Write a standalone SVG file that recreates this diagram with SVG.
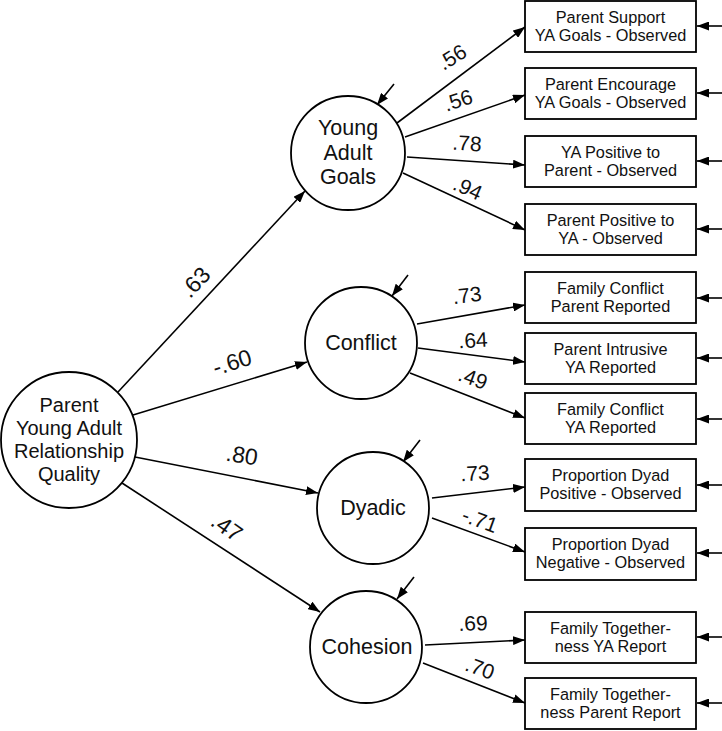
<svg xmlns="http://www.w3.org/2000/svg" width="722" height="731" viewBox="0 0 722 731">
<defs>
<marker id="ah" markerUnits="userSpaceOnUse" markerWidth="13" markerHeight="9" refX="12" refY="4.5" orient="auto">
<path d="M0,0 L12,4.5 L0,9 z" fill="#000"/>
</marker>
<style>
.n{fill:#fff;stroke:#000;stroke-width:1.8}
.c line{stroke:#000;stroke-width:1.6;marker-end:url(#ah)}
text{font-family:"Liberation Sans",Arial,sans-serif;fill:#111;text-anchor:middle}
.lt{font-size:21.5px}
.mt{font-size:20px}
.bt{font-size:16.3px}
.l1{font-size:23px}
.l2{font-size:21px}
</style>
</defs>
<rect width="722" height="731" fill="#fff"/>
<g id="connectors" class="c">
<line x1="118" y1="392" x2="305" y2="191"/>
<line x1="133" y1="415" x2="307" y2="362"/>
<line x1="135" y1="457" x2="318" y2="493"/>
<line x1="122" y1="483" x2="320" y2="612"/>
<line x1="397" y1="123" x2="525" y2="27"/>
<line x1="405" y1="137" x2="525" y2="95"/>
<line x1="407" y1="157" x2="525" y2="165"/>
<line x1="403" y1="173" x2="525" y2="230"/>
<line x1="417" y1="324" x2="525" y2="305"/>
<line x1="418" y1="348" x2="525" y2="362"/>
<line x1="410" y1="373" x2="525" y2="418"/>
<line x1="432" y1="498" x2="525" y2="487"/>
<line x1="432" y1="518" x2="525" y2="552"/>
<line x1="425" y1="645" x2="525" y2="640"/>
<line x1="423" y1="663" x2="525" y2="703"/>
<line x1="394" y1="84" x2="377" y2="105"/>
<line x1="408" y1="275" x2="392" y2="296"/>
<line x1="420" y1="440" x2="403" y2="462"/>
<line x1="414" y1="577" x2="397" y2="599"/>
<line x1="722" y1="26" x2="697" y2="26"/>
<line x1="722" y1="93" x2="697" y2="93"/>
<line x1="722" y1="161" x2="697" y2="161"/>
<line x1="722" y1="229" x2="697" y2="229"/>
<line x1="722" y1="298" x2="697" y2="298"/>
<line x1="722" y1="358" x2="697" y2="358"/>
<line x1="722" y1="419" x2="697" y2="419"/>
<line x1="722" y1="485" x2="697" y2="485"/>
<line x1="722" y1="553" x2="697" y2="553"/>
<line x1="722" y1="637" x2="697" y2="637"/>
<line x1="722" y1="703" x2="697" y2="703"/>
</g>
<g id="labels">
<g transform="translate(195,282) rotate(-47)"><text class="l1" y="8.2">.63</text></g>
<g transform="translate(232,362) rotate(-17)"><text class="l1" y="8.2">-.60</text></g>
<g transform="translate(242,455) rotate(9)"><text class="l1" y="8.2">.80</text></g>
<g transform="translate(227,527) rotate(35)"><text class="l1" y="8.2">.47</text></g>
<g transform="translate(452,57) rotate(-32)"><text class="l2" y="7.5">.56</text></g>
<g transform="translate(458,100) rotate(-18)"><text class="l2" y="7.5">.56</text></g>
<g transform="translate(467,143) rotate(4)"><text class="l2" y="7.5">.78</text></g>
<g transform="translate(468,188) rotate(24)"><text class="l2" y="7.5">.94</text></g>
<g transform="translate(467,295) rotate(-7)"><text class="l2" y="7.5">.73</text></g>
<g transform="translate(473,340) rotate(-3)"><text class="l2" y="7.5">.64</text></g>
<g transform="translate(473,378) rotate(20)"><text class="l2" y="7.5">.49</text></g>
<g transform="translate(475,473) rotate(-3)"><text class="l2" y="7.5">.73</text></g>
<g transform="translate(480,520) rotate(20)"><text class="l2" y="7.5">-.71</text></g>
<g transform="translate(473,623) rotate(-2)"><text class="l2" y="7.5">.69</text></g>
<g transform="translate(480,668) rotate(20)"><text class="l2" y="7.5">.70</text></g>
</g>
<g id="pyarq"><circle class="n" cx="69" cy="440" r="68"/>
<text class="mt" x="69" y="412">Parent</text><text class="mt" x="69" y="435">Young Adult</text><text class="mt" x="69" y="458">Relationship</text><text class="mt" x="69" y="481">Quality</text></g>
<g id="yag"><circle class="n" cx="348" cy="153" r="57"/>
<text class="lt" x="348" y="135">Young</text><text class="lt" x="348" y="160">Adult</text><text class="lt" x="348" y="184">Goals</text></g>
<g id="conflict"><circle class="n" cx="361" cy="343" r="56"/><text class="lt" x="361" y="350">Conflict</text></g>
<g id="dyadic"><circle class="n" cx="373" cy="508" r="56"/><text class="lt" x="373" y="515">Dyadic</text></g>
<g id="cohesion"><circle class="n" cx="366" cy="647" r="56"/><text class="lt" x="367" y="654">Cohesion</text></g>
<g id="b1"><rect class="n" x="525" y="1" width="171" height="51"/><text class="bt" x="610.5" y="23">Parent Support</text><text class="bt" x="610.5" y="41">YA Goals - Observed</text></g>
<g id="b2"><rect class="n" x="525" y="68" width="171" height="51"/><text class="bt" x="610.5" y="90">Parent Encourage</text><text class="bt" x="610.5" y="108">YA Goals - Observed</text></g>
<g id="b3"><rect class="n" x="525" y="136" width="171" height="51"/><text class="bt" x="610.5" y="158">YA Positive to</text><text class="bt" x="610.5" y="176">Parent - Observed</text></g>
<g id="b4"><rect class="n" x="525" y="204" width="171" height="51"/><text class="bt" x="610.5" y="226">Parent Positive to</text><text class="bt" x="610.5" y="244">YA - Observed</text></g>
<g id="b5"><rect class="n" x="525" y="272" width="171" height="51"/><text class="bt" x="610.5" y="294">Family Conflict</text><text class="bt" x="610.5" y="312">Parent Reported</text></g>
<g id="b6"><rect class="n" x="525" y="333" width="171" height="51"/><text class="bt" x="610.5" y="355">Parent Intrusive</text><text class="bt" x="610.5" y="373">YA Reported</text></g>
<g id="b7"><rect class="n" x="525" y="393" width="171" height="51"/><text class="bt" x="610.5" y="415">Family Conflict</text><text class="bt" x="610.5" y="433">YA Reported</text></g>
<g id="b8"><rect class="n" x="525" y="459" width="171" height="52"/><text class="bt" x="610.5" y="481">Proportion Dyad</text><text class="bt" x="610.5" y="499">Positive - Observed</text></g>
<g id="b9"><rect class="n" x="525" y="528" width="171" height="52"/><text class="bt" x="610.5" y="550">Proportion Dyad</text><text class="bt" x="610.5" y="568">Negative - Observed</text></g>
<g id="b10"><rect class="n" x="525" y="612" width="171" height="51"/><text class="bt" x="610.5" y="634">Family Together-</text><text class="bt" x="610.5" y="652">ness YA Report</text></g>
<g id="b11"><rect class="n" x="525" y="678" width="171" height="51"/><text class="bt" x="610.5" y="700">Family Together-</text><text class="bt" x="610.5" y="718">ness Parent Report</text></g>
</svg>
